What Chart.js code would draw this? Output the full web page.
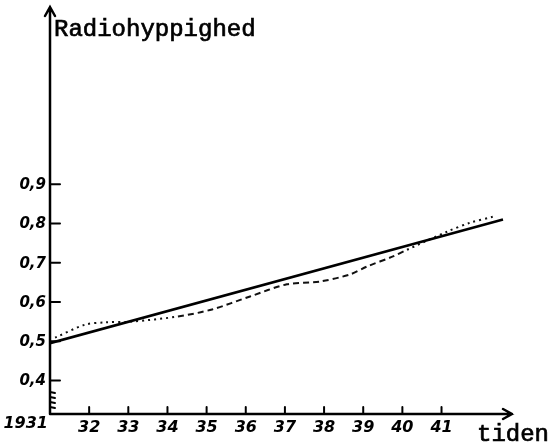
<!DOCTYPE html>
<html>
<head>
<meta charset="utf-8">
<script src="https://cdn.jsdelivr.net/npm/chart.js@4.4.1/dist/chart.umd.min.js"></script>
<style>
  body { margin: 0; background: #fff; }
  #wrap { width: 550px; height: 447px; }
</style>
</head>
<body>
<div id="wrap"><canvas id="graf" width="550" height="447"></canvas></div>
<script>
// maalte vaerdier (stiplet kurve)
const maaltAar = [1931.13, 1931.89, 1932.40, 1933.09, 1934.27, 1935.14, 1936.11, 1937.05, 1937.89, 1938.66, 1939.09, 1939.76, 1940.12, 1941.14, 1941.73, 1942.31];
const maaltVaerdi = [0.509, 0.542, 0.548, 0.550, 0.563, 0.581, 0.614, 0.645, 0.652, 0.670, 0.690, 0.716, 0.733, 0.779, 0.802, 0.817];
// rette linje
const linjeAar = [1931, 1942.57];
const linjeVaerdi = [0.495, 0.810];

const xTicks = [1931, 1932, 1933, 1934, 1935, 1936, 1937, 1938, 1939, 1940, 1941];
const xLabels = ["1931", "32", "33", "34", "35", "36", "37", "38", "39", "40", "41"];
const yTicks = [0.4, 0.5, 0.6, 0.7, 0.8, 0.9];
const yLabels = ["0,4", "0,5", "0,6", "0,7", "0,8", "0,9"];

const hand = "italic bold 15px 'DejaVu Sans'";
const maskine = "24px 'Liberation Mono'";

const akser = {
  id: 'akser',
  beforeDatasetsDraw(chart) {
    const c = chart.ctx, a = chart.chartArea;
    const xs = chart.scales.x, ys = chart.scales.y;
    c.save();
    c.strokeStyle = '#000';
    c.lineWidth = 2.5;
    c.lineCap = 'round';
    // y-akse
    c.beginPath();
    c.moveTo(a.left, a.bottom); c.lineTo(a.left, a.top);
    c.moveTo(a.left - 5, a.top + 9); c.lineTo(a.left, a.top); c.lineTo(a.left + 5, a.top + 9);
    // x-akse
    c.moveTo(a.left, a.bottom); c.lineTo(a.right, a.bottom);
    c.moveTo(a.right - 9, a.bottom - 5); c.lineTo(a.right, a.bottom); c.lineTo(a.right - 9, a.bottom + 5);
    c.stroke();
    // knaek paa y-aksen
    c.lineWidth = 2;
    c.beginPath();
    for (let i = 0; i < 4; i++) {
      const y = a.bottom - 22 + i * 5;
      c.moveTo(a.left, y); c.lineTo(a.left + 5, y + 1);
    }
    c.stroke();
    // streger
    c.lineWidth = 2;
    yTicks.forEach(v => {
      const y = ys.getPixelForValue(v);
      c.beginPath(); c.moveTo(a.left, y); c.lineTo(a.left + 10, y); c.stroke();
    });
    xTicks.slice(1).forEach(v => {
      const x = xs.getPixelForValue(v);
      c.beginPath(); c.moveTo(x, a.bottom); c.lineTo(x, a.bottom - 7); c.stroke();
    });
    // tal
    c.fillStyle = '#000';
    c.font = hand;
    c.textBaseline = 'middle';
    c.textAlign = 'right';
    yTicks.forEach((v, i) => c.fillText(yLabels[i], a.left - 4, ys.getPixelForValue(v) + 1));
    c.font = "italic bold 16px 'DejaVu Sans'";
    xTicks.forEach((v, i) => {
      const x = xs.getPixelForValue(v);
      if (i === 0) { c.textAlign = 'right'; c.fillText(xLabels[i], x - 2, a.bottom + 10); }
      else { c.textAlign = 'center'; c.fillText(xLabels[i], x, a.bottom + 14); }
    });
    // tekster (skrivemaskine)
    c.font = maskine;
    c.textAlign = 'left';
    c.textBaseline = 'alphabetic';
    c.lineWidth = 0.7;
    c.fillText('Radiohyppighed', a.left + 4, 36);
    c.strokeText('Radiohyppighed', a.left + 4, 36);
    c.fillText('tiden', 477, 441);
    c.strokeText('tiden', 477, 441);
    c.restore();
  }
};

const prikket = [2, 4];
const stiplet = [6, 4];

new Chart(document.querySelector('#graf'), {
  type: 'line',
  data: {
    datasets: [{
      data: linjeAar.map((x, i) => ({ x: x, y: linjeVaerdi[i] })),
      borderColor: '#000',
      borderWidth: 2.6,
      pointRadius: 0,
      tension: 0
    }, {
      data: maaltAar.map((x, i) => ({ x: x, y: maaltVaerdi[i] })),
      borderColor: '#111',
      borderWidth: 2,
      pointRadius: 0,
      tension: 0.3,
      segment: {
        borderDash: ctx => (ctx.p0DataIndex < 4 || ctx.p0DataIndex > 11) ? prikket : stiplet
      }
    }]
  },
  options: {
    responsive: false,
    animation: false,
    layout: { padding: { left: 50, right: 38, top: 7, bottom: 33 } },
    plugins: { legend: { display: false }, tooltip: { enabled: false } },
    scales: {
      x: { type: 'linear', display: false, min: 1931, max: 1942.8 },
      y: { type: 'linear', display: false, min: 0.3145, max: 1.3517 }
    }
  },
  plugins: [akser]
});
</script>
</body>
</html>
